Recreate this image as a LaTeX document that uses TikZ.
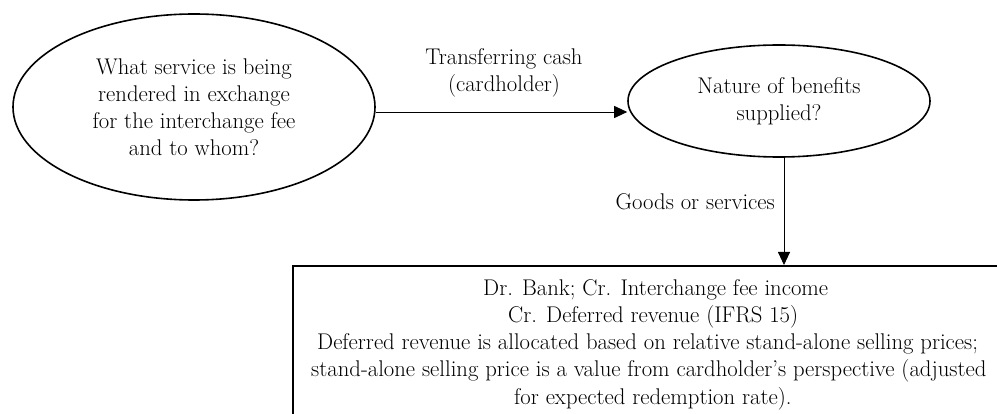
\documentclass[tikz,border=0pt]{standalone}
\usetikzlibrary{shapes.geometric,arrows.meta}
\begin{document}
\begin{tikzpicture}[x=1pt,y=-1pt,
  font=\fontsize{22.7}{27}\selectfont,
  bubble/.style={ellipse,draw,line width=1.6pt,inner sep=0pt,align=center},
  link/.style={draw,line width=0.9pt,-{Triangle[length=13pt,width=12pt]}},
  plain/.style={inner sep=0pt,align=center},
  entry/.style={inner sep=0pt,anchor=base west},
  frame/.style={draw,line width=1.6pt,rectangle,inner sep=0pt}]
\useasboundingbox (0,0) rectangle (997,414);
\clip (0,0) rectangle (997,414);

% decision ellipses
\node[bubble,minimum width=362pt,minimum height=186pt] (q) at (194,107)
  {What service is being\\rendered in exchange\\for the interchange fee\\and to whom?};
\node[bubble,minimum width=302pt,minimum height=112pt] (n) at (779,101)
  {Nature of benefits\\supplied?};

% outcome box (runs off the page on the right and at the bottom)
\node[frame,anchor=north west,minimum width=760pt,minimum height=200pt] (box) at (292,265) {};

% box contents
\node[entry] (l1) at (483,296) {Dr. Bank; Cr. Interchange fee income};
\node[entry] (l2) at (508,323) {Cr. Deferred revenue (IFRS 15)};
\node[entry] (l3) at (317,350) {Deferred revenue is allocated based on relative stand-alone selling prices;};
\node[entry] (l4) at (311,377) {stand-alone selling price is a value from cardholder’s perspective (adjusted};
\node[entry] (l5) at (514,404) {for expected redemption rate).};

% connectors
\coordinate (hy) at (0,112);
\coordinate (vx) at (784,0);
\draw[link] (q.east |- hy) -- (n.west |- hy);
\draw[link] (vx |- n.south) -- (vx |- box.north);

% connector labels
\node[plain] (t1) at (504,73) {Transferring cash\\(cardholder)};
\node[plain,anchor=east] (t2) at (775,202) {Goods or services};
\end{tikzpicture}
\end{document}
